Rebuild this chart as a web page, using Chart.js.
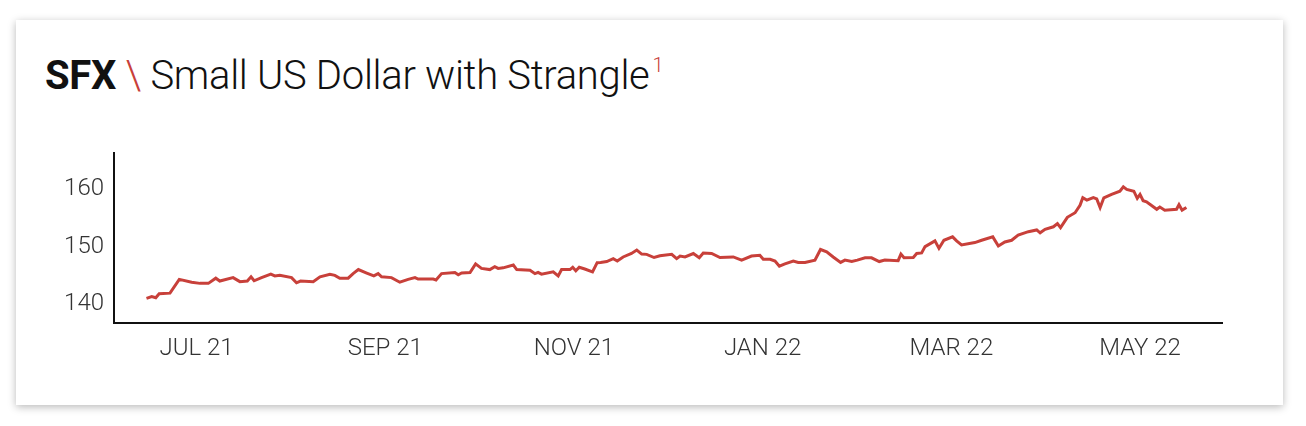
<!DOCTYPE html>
<html>
<head>
<meta charset="utf-8">
<script src="https://cdn.jsdelivr.net/npm/chart.js@4.4.0/dist/chart.umd.min.js"></script>
<style>
    body { margin: 0; background: #fff; font-family: Roboto, sans-serif; }
    .card {
        position: absolute; left: 16px; top: 20px; width: 1267px; height: 385px;
        background: #fff; box-shadow: 0 2px 8px rgba(0, 0, 0, 0.28);
    }
    .title {
        position: absolute; left: 45px; top: 53px; font-size: 40px; font-weight: 300;
        color: #111; white-space: nowrap; letter-spacing: -0.3px; line-height: 1.172;
    }
    .title b { font-weight: 700; }
    .title .sep { color: #c8403a; }
    .title sup { color: #c8403a; font-size: 20px; vertical-align: 17px; line-height: 0; margin-left: 3px; }
    #chartWrap { position: absolute; left: 0; top: 0; width: 1306px; height: 426px; }
</style>
</head>
<body>
<div class="card"></div>
<div class="title"><b>SFX</b> <span class="sep">\</span> Small US Dollar with Strangle<sup>1</sup></div>
<div id="chartWrap"><canvas id="sfxChart"></canvas></div>
<script>
// days counted from 1 Jun 2021
const days = [
    13.8, 15.5, 16.8, 17.9, 21.4, 24.4, 28.4, 31.1, 33.8, 36.2, 37.5, 41.8, 44.0, 46.4, 47.6, 48.6,
    51.0, 54.0, 55.3, 56.9, 60.7, 62.3, 63.6, 67.7, 69.9, 73.1, 74.7, 76.3, 79.0, 80.6,
    82.3, 85.0, 87.3, 88.7, 89.8, 93.0, 95.7, 98.4, 100.6, 101.6, 106.5, 107.4, 109.2, 113.5,
    114.6, 115.7, 118.4, 120.2, 122.1, 124.8, 126.4, 127.5, 129.1, 132.4, 133.5, 137.8, 139.4,
    140.4, 141.5, 145.3, 146.9, 148.0, 150.7, 151.6, 152.6, 153.7, 155.5, 158.0, 159.5, 160.6,
    162.6, 164.7, 166.0, 167.9, 170.6, 172.3, 173.9, 175.5, 177.9, 179.8, 183.6, 185.2, 186.3,
    187.9, 190.6, 192.5, 193.8, 196.5, 199.2, 203.5, 206.2, 209.4, 212.1, 213.2, 215.4, 217.0,
    218.4, 220.2, 222.9, 224.5, 226.7, 229.9, 231.7, 233.7, 235.8, 238.2, 239.6, 241.8, 243.6,
    246.1, 248.2, 250.7, 252.5, 256.8, 257.7, 258.7, 261.7, 262.8, 264.4, 265.5, 268.7, 270.0,
    271.6, 274.4, 275.7, 277.3, 281.6, 283.8, 287.4, 289.2, 291.3, 293.5, 295.6, 298.9, 301.6,
    302.7, 304.3, 307.0, 308.3, 309.3, 311.5, 314.0, 315.6, 316.5, 317.8, 319.9, 321.0, 322.1,
    323.3, 325.8, 328.5, 329.6, 330.7, 333.0, 334.1, 335.0, 336.0, 337.1, 340.4, 341.4, 343.0,
    346.8, 347.6, 348.6, 350.0
];
const prices = [
    141.0, 141.3, 141.1, 141.8, 141.9, 144.3, 143.8, 143.6, 143.6, 144.5, 144.0, 144.6, 143.9, 144.0, 144.75, 144.05,
    144.6, 145.2, 144.9, 145.0, 144.6, 143.7, 144.0, 143.9, 144.75, 145.2, 145.0, 144.5, 144.5, 145.3,
    146.0, 145.4, 144.9, 145.3, 144.75, 144.6, 143.8, 144.3, 144.6, 144.35, 144.35, 144.2, 145.3, 145.5,
    145.1, 145.4, 145.5, 147.0, 146.2, 146.0, 146.5, 146.2, 146.3, 146.8, 146.0, 145.9, 145.3,
    145.5, 145.2, 145.6, 144.9, 146.0, 146.0, 146.4, 145.8, 146.4, 146.1, 145.6, 147.2, 147.25,
    147.4, 147.9, 147.5, 148.2, 148.8, 149.4, 148.7, 148.65, 148.1, 148.4, 148.65, 147.9, 148.35,
    148.2, 148.8, 148.05, 148.9, 148.8, 148.1, 148.2, 147.65, 148.35, 148.5, 147.8, 147.8, 147.5,
    146.6, 147.0, 147.5, 147.25, 147.25, 147.65, 149.5, 149.1, 148.2, 147.25, 147.65, 147.4, 147.65,
    148.05, 148.05, 147.4, 147.65, 147.55, 148.7, 148.05, 148.1, 148.8, 148.9, 150.0, 151.0, 149.7,
    151.1, 151.7, 151.0, 150.3, 150.7, 151.1, 151.7, 150.1, 150.8, 151.1, 152.0, 152.6, 152.9,
    152.4, 153.0, 153.45, 154.0, 153.3, 155.1, 155.9, 157.2, 158.5, 158.1, 158.55, 158.3, 156.8,
    158.5, 159.1, 159.65, 160.4, 159.95, 159.65, 158.4, 159.1, 158.0, 157.8, 156.5, 156.9, 156.35,
    156.5, 157.3, 156.35, 156.8
];

const tickDays = [30, 91, 152, 213, 274, 335];
const tickLabels = ['JUL 21', 'SEP 21', 'NOV 21', 'JAN 22', 'MAR 22', 'MAY 22'];
const yTicks = [140, 150, 160];

const points = days.map((d, i) => ({ x: d, y: prices[i] }));
const tickFont = { family: 'Roboto', size: 24, weight: 300 };

new Chart(document.getElementById('sfxChart'), {
    type: 'line',
    data: {
        datasets: [{
            data: points,
            borderColor: '#c8403a',
            borderWidth: 3,
            pointRadius: 0,
            tension: 0
        }]
    },
    options: {
        responsive: true,
        maintainAspectRatio: false,
        animation: false,
        layout: { padding: { left: 54, right: 84, top: 153, bottom: 43 } },
        plugins: { legend: { display: false }, tooltip: { enabled: false } },
        scales: {
            x: {
                type: 'linear',
                min: 3.3,
                max: 361.5,
                afterFit: scale => { scale.height = 60; },
                afterBuildTicks: scale => { scale.ticks = tickDays.map(v => ({ value: v })); },
                grid: { display: false, drawTicks: false },
                border: { display: true, color: '#111', width: 2 },
                ticks: {
                    padding: 12,
                    color: '#333',
                    font: tickFont,
                    maxRotation: 0,
                    autoSkip: false,
                    callback: (v) => tickLabels[tickDays.indexOf(v)]
                }
            },
            y: {
                min: 136.7,
                max: 166.3,
                afterFit: scale => { scale.width = 60; },
                afterBuildTicks: scale => { scale.ticks = yTicks.map(v => ({ value: v })); },
                grid: { display: false, drawTicks: false },
                border: { display: true, color: '#111', width: 2 },
                ticks: {
                    padding: 10,
                    color: '#333',
                    font: tickFont
                }
            }
        }
    }
});
</script>
</body>
</html>
